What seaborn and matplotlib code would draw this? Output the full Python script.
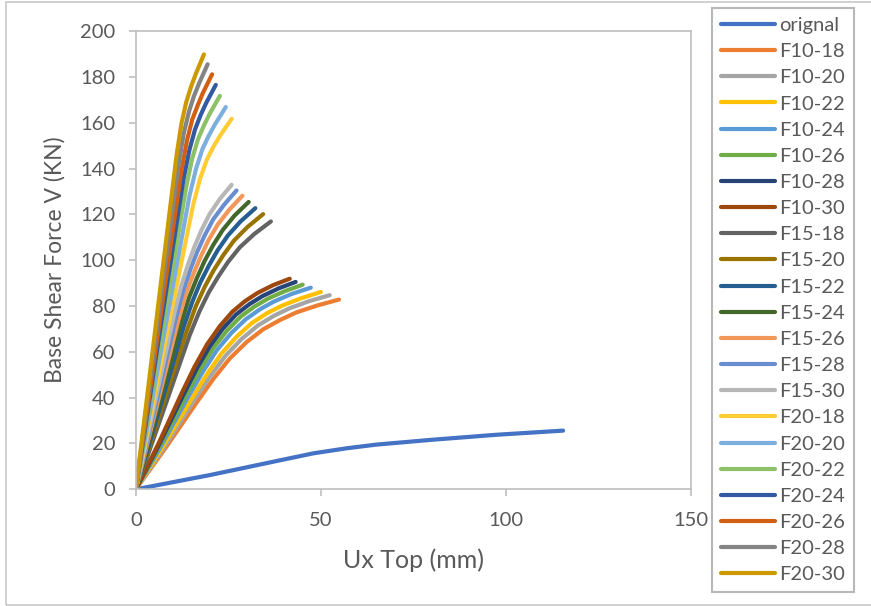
import numpy as np
import pandas as pd
import matplotlib
matplotlib.use("Agg")
import matplotlib.pyplot as plt
import seaborn as sns
from matplotlib.patches import Rectangle

# values (Ux top in mm, base shear in kN)
orignal_x = [0, 20, 40, 48, 57, 65, 80, 97.5, 115.5]
orignal_y = [0, 6.2, 13.0, 15.7, 17.9, 19.5, 21.6, 23.8, 25.6]

f10_18_x = [0, 8.0, 16.4, 21.0, 25.4, 29.9, 34.4, 39.0, 43.4, 49.0, 54.9]
f10_18_y = [0, 18.0, 37.8, 48.3, 57.1, 64.2, 69.8, 73.9, 77.2, 80.2, 82.8]
f10_20_x = [0, 7.7, 15.7, 20.1, 24.3, 28.6, 32.9, 37.2, 41.4, 46.8, 52.4]
f10_20_y = [0, 18.4, 38.7, 49.4, 58.4, 65.6, 71.4, 75.6, 78.9, 82.1, 84.7]
f10_22_x = [0, 7.3, 15.0, 19.2, 23.2, 27.3, 31.4, 35.5, 39.6, 44.7, 50.0]
f10_22_y = [0, 18.7, 39.3, 50.2, 59.4, 66.7, 72.6, 76.9, 80.2, 83.4, 86.1]
f10_24_x = [0, 6.9, 14.1, 18.1, 21.9, 25.8, 29.7, 33.6, 37.4, 42.2, 47.3]
f10_24_y = [0, 19.1, 40.2, 51.3, 60.7, 68.2, 74.2, 78.6, 82.0, 85.3, 88.0]
f10_26_x = [0, 6.6, 13.5, 17.3, 20.9, 24.6, 28.3, 32.0, 35.7, 40.3, 45.1]
f10_26_y = [0, 19.4, 40.8, 52.1, 61.6, 69.2, 75.3, 79.7, 83.2, 86.5, 89.3]
f10_28_x = [0, 6.3, 12.9, 16.5, 20.0, 23.5, 27.1, 30.7, 34.2, 38.6, 43.2]
f10_28_y = [0, 19.6, 41.4, 52.8, 62.4, 70.1, 76.3, 80.8, 84.3, 87.7, 90.5]
f10_30_x = [0, 6.1, 12.4, 15.9, 19.3, 22.7, 26.1, 29.5, 32.9, 37.1, 41.6]
f10_30_y = [0, 19.9, 42.0, 53.6, 63.4, 71.2, 77.5, 82.1, 85.7, 89.1, 91.9]

f15_18_x = [0, 8.0, 14.6, 17.2, 19.7, 22.3, 25.0, 28.1, 32.0, 36.5]
f15_18_y = [0, 36.9, 67.5, 77.7, 85.9, 92.9, 99.4, 105.6, 111.4, 116.9]
f15_20_x = [0, 7.5, 13.8, 16.2, 18.6, 21.0, 23.6, 26.5, 30.2, 34.4]
f15_20_y = [0, 38.0, 69.3, 79.9, 88.3, 95.5, 102.1, 108.5, 114.5, 120.1]
f15_22_x = [0, 7.1, 12.9, 15.2, 17.4, 19.7, 22.1, 24.9, 28.3, 32.3]
f15_22_y = [0, 38.8, 70.8, 81.6, 90.2, 97.5, 104.3, 110.8, 116.9, 122.7]
f15_24_x = [0, 6.7, 12.2, 14.3, 16.5, 18.6, 20.9, 23.5, 26.7, 30.5]
f15_24_y = [0, 39.6, 72.4, 83.4, 92.2, 99.7, 106.6, 113.2, 119.5, 125.4]
f15_26_x = [0, 6.3, 11.5, 13.5, 15.6, 17.6, 19.7, 22.2, 25.3, 28.8]
f15_26_y = [0, 40.5, 73.9, 85.2, 94.2, 101.8, 108.9, 115.7, 122.1, 128.1]
f15_28_x = [0, 6.0, 10.9, 12.8, 14.7, 16.6, 18.6, 20.9, 23.9, 27.2]
f15_28_y = [0, 41.2, 75.2, 86.7, 95.8, 103.7, 110.8, 117.8, 124.3, 130.4]
f15_30_x = [0, 5.7, 10.4, 12.2, 14.0, 15.8, 17.7, 19.9, 22.7, 25.9]
f15_30_y = [0, 42.0, 76.7, 88.4, 97.7, 105.7, 113.0, 120.0, 126.7, 132.9]

f20_18_x = [0, 8.4, 15.5, 17.4, 19.2, 21.0, 22.8, 25.9]
f20_18_y = [0, 68.1, 124.2, 135.8, 143.9, 149.6, 154.4, 161.7]
f20_20_x = [0, 7.9, 14.5, 16.3, 18.0, 19.7, 21.4, 24.3]
f20_20_y = [0, 70.2, 128.1, 140.1, 148.5, 154.3, 159.3, 166.8]
f20_22_x = [0, 7.4, 13.6, 15.2, 16.8, 18.4, 20.0, 22.7]
f20_22_y = [0, 72.3, 131.9, 144.2, 152.8, 158.8, 164.0, 171.7]
f20_24_x = [0, 7.0, 12.9, 14.5, 16.0, 17.5, 19.0, 21.6]
f20_24_y = [0, 74.3, 135.6, 148.3, 157.1, 163.3, 168.6, 176.5]
f20_26_x = [0, 6.7, 12.3, 13.8, 15.2, 16.7, 18.1, 20.6]
f20_26_y = [0, 76.2, 139.1, 152.1, 161.2, 167.5, 172.9, 181.1]
f20_28_x = [0, 6.3, 11.6, 13.0, 14.4, 15.7, 17.1, 19.4]
f20_28_y = [0, 78.1, 142.5, 155.8, 165.1, 171.6, 177.2, 185.5]
f20_30_x = [0, 6.0, 11.0, 12.3, 13.6, 14.9, 16.2, 18.4]
f20_30_y = [0, 79.9, 145.8, 159.4, 168.9, 175.6, 181.3, 189.8]

labels = ["orignal", "F10-18", "F10-20", "F10-22", "F10-24", "F10-26", "F10-28",
          "F10-30", "F15-18", "F15-20", "F15-22", "F15-24", "F15-26", "F15-28",
          "F15-30", "F20-18", "F20-20", "F20-22", "F20-24", "F20-26", "F20-28",
          "F20-30"]
colors = ["#4472C4", "#ED7D31", "#A5A5A5", "#FFC000", "#5B9BD5", "#70AD47",
          "#264478", "#9E480E", "#636363", "#997300", "#255E91", "#43682B",
          "#F1975A", "#698ED0", "#B7B7B7", "#FFCD33", "#7CAFDD", "#8CC168",
          "#335AA1", "#D26012", "#848484", "#CC9A00"]

xs = [orignal_x, f10_18_x, f10_20_x, f10_22_x, f10_24_x, f10_26_x, f10_28_x,
      f10_30_x, f15_18_x, f15_20_x, f15_22_x, f15_24_x, f15_26_x, f15_28_x,
      f15_30_x, f20_18_x, f20_20_x, f20_22_x, f20_24_x, f20_26_x, f20_28_x,
      f20_30_x]
ys = [orignal_y, f10_18_y, f10_20_y, f10_22_y, f10_24_y, f10_26_y, f10_28_y,
      f10_30_y, f15_18_y, f15_20_y, f15_22_y, f15_24_y, f15_26_y, f15_28_y,
      f15_30_y, f20_18_y, f20_20_y, f20_22_y, f20_24_y, f20_26_y, f20_28_y,
      f20_30_y]

sns.set_theme(style="white")
plt.rcParams['font.family'] = ['Lato', 'DejaVu Sans']
grey_txt = "#595959"
axis_col = "#BFBFBF"

fig = plt.figure(figsize=(8.71, 6.06), dpi=100)
ax = fig.add_axes([0.156, 0.1926, 0.637, 0.7562])

for lab, x, y, c in zip(labels, xs, ys, colors):
    sns.lineplot(x=x, y=y, ax=ax, color=c, linewidth=3, label=lab,
                 sort=False, estimator=None, solid_capstyle="round",
                 solid_joinstyle="round")

ax.set_xlim(0, 150)
ax.set_ylim(0, 200)
ax.set_xticks([0, 50, 100, 150])
ax.set_yticks(np.arange(0, 201, 20))
for s in ax.spines.values():
    s.set_color(axis_col)
    s.set_linewidth(1.2)
ax.tick_params(axis="both", direction="out", length=5, width=1.2,
               color=axis_col, labelsize=14.5, labelcolor=grey_txt)
ax.tick_params(axis="y", pad=10, left=True)
ax.tick_params(axis="x", pad=11, bottom=True)
ax.set_xlabel("Ux Top (mm)", fontsize=18, color=grey_txt, labelpad=14)
ax.set_ylabel("Base Shear Force V (KN)", fontsize=16.5, color=grey_txt, labelpad=10)

h, l = ax.get_legend_handles_labels()
ax.get_legend().remove()
leg = fig.legend(h, l, loc="upper left", bbox_to_anchor=(0.8175, 0.987),
                 frameon=True, fancybox=False, edgecolor="#A6A6A6",
                 fontsize=14.5, handlelength=2.7, handletextpad=0.2,
                 labelspacing=0.45, borderpad=0.45, borderaxespad=0)
leg.get_frame().set_linewidth(1.5)
for t in leg.get_texts():
    t.set_color(grey_txt)
for ln in leg.get_lines():
    ln.set_linewidth(3)

# outer chart border
fig.patches.append(Rectangle((0.0069, 0.0017), 1.2, 0.995, transform=fig.transFigure,
                             fill=False, edgecolor="#C8C8C8", linewidth=1.2))

fig.savefig("out.png", dpi=100)
